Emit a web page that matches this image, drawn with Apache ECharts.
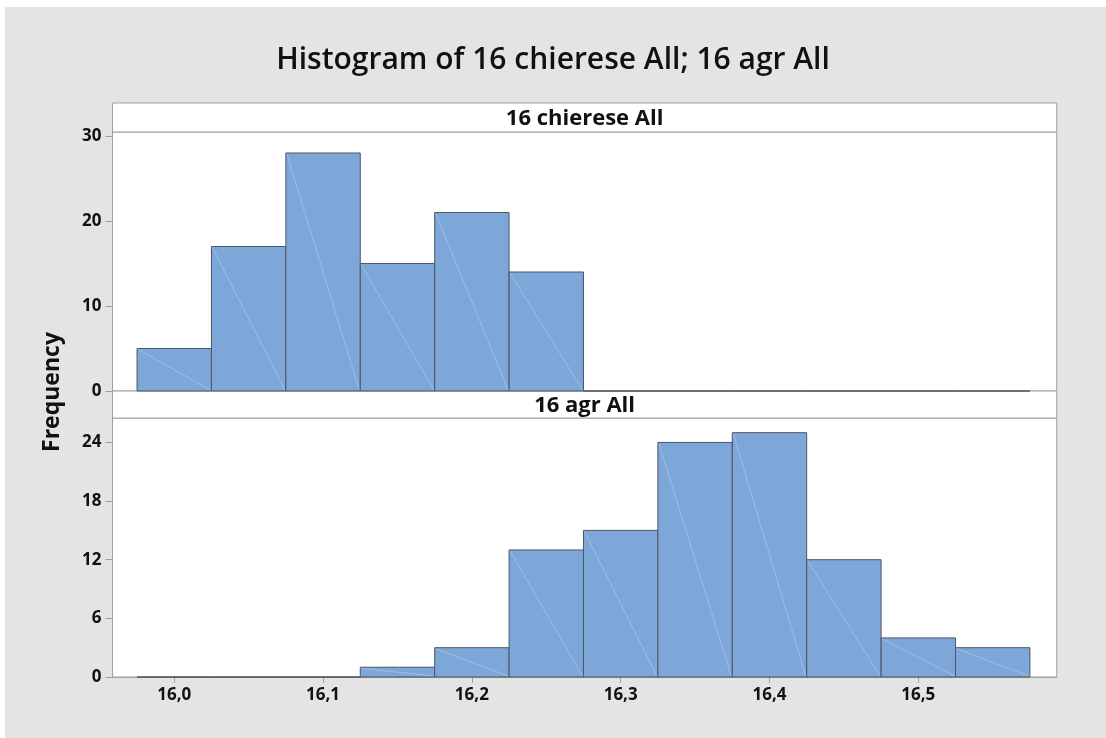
<!DOCTYPE html>
<html>
<head>
<meta charset="utf-8">
<script src="https://cdn.jsdelivr.net/npm/echarts@6/dist/echarts.min.js"></script>
<style>
html,body{margin:0;padding:0;background:#fff;}
#chart{width:1106px;height:738px;}
</style>
</head>
<body>
<div id="chart"></div>
<script>
// ---- data ----
const chartTitle = 'Histogram of 16 chierese All; 16 agr All';
const panelNames = ['16 chierese All', '16 agr All'];
const binCenters = [16.00, 16.05, 16.10, 16.15, 16.20, 16.25, 16.30, 16.35, 16.40, 16.45, 16.50, 16.55];
const binWidth = 0.05;
const chiereseCounts = [5, 17, 28, 15, 21, 14, 0, 0, 0, 0, 0, 0];
const agrCounts = [0, 0, 0, 1, 3, 13, 15, 24, 25, 12, 4, 3];
const xTickValues = [16.0, 16.1, 16.2, 16.3, 16.4, 16.5];
const xTickLabels = ['16,0', '16,1', '16,2', '16,3', '16,4', '16,5'];
const yTicksTop = [0, 10, 20, 30];
const yTicksBottom = [0, 6, 12, 18, 24];
const yAxisTitle = 'Frequency';

// ---- layout ----
const FONT = '"Open Sans", "Noto Sans", sans-serif';
const plotLeft = 112.5, plotRight = 1056.7;
const topStrip = [103, 132], topPlot = [132, 391];
const botStrip = [391, 418], botPlot = [418, 677];
const xMin = 15.9585, xMax = 16.593;

function binData(counts) {
  return binCenters.map((c, i) => [c - binWidth / 2, c + binWidth / 2, counts[i]]);
}

function renderBar(params, api) {
  const x0 = api.value(0), x1 = api.value(1), v = api.value(2);
  const pTop = api.coord([x0, v]);
  const pBot = api.coord([x1, 0]);
  const rect = { x: pTop[0], y: pTop[1], width: pBot[0] - pTop[0], height: pBot[1] - pTop[1] };
  const children = [{
    type: 'rect',
    shape: rect,
    style: { fill: '#7da7d9', stroke: '#4d5563', lineWidth: 1 }
  }];
  if (v > 0) {
    children.push({
      type: 'line',
      shape: { x1: pTop[0] + 1, y1: pTop[1] + 1, x2: pBot[0] - 1, y2: pBot[1] - 1 },
      style: { stroke: 'rgba(255,255,255,0.25)', lineWidth: 1 }
    });
  }
  return { type: 'group', children: children };
}

const labelStyle = { color: '#111', fontFamily: FONT, fontWeight: 700, fontSize: 17 };
const axisGray = '#a0a0a0';

function yAxis(gridIndex, maxV, ticks) {
  return {
    type: 'value', gridIndex: gridIndex, min: 0, max: maxV,
    axisLine: { show: true, lineStyle: { color: axisGray } },
    axisTick: { show: true, length: 7, lineStyle: { color: axisGray }, customValues: ticks },
    axisLabel: Object.assign({ margin: 11, customValues: ticks, formatter: v => String(v) }, labelStyle),
    splitLine: { show: false }
  };
}

const chart = echarts.init(document.getElementById('chart'), null, { renderer: 'canvas' });
chart.setOption({
  animation: false,
  backgroundColor: '#ffffff',
  title: {
    text: chartTitle, left: 'center', top: 40,
    textStyle: { fontFamily: FONT, fontWeight: 600, fontSize: 30, color: '#111' }
  },
  graphic: [
    { type: 'rect', z: -10, shape: { x: 5, y: 7, width: 1101, height: 731 }, style: { fill: '#e4e4e4' } },
    { type: 'rect', shape: { x: plotLeft, y: topStrip[0], width: plotRight - plotLeft, height: topStrip[1] - topStrip[0] },
      style: { fill: '#fff', stroke: axisGray, lineWidth: 1 } },
    { type: 'text', x: (plotLeft + plotRight) / 2, y: (topStrip[0] + topStrip[1]) / 2 + 1,
      style: { text: panelNames[0], align: 'center', verticalAlign: 'middle', font: '700 22px ' + FONT, fill: '#111' } },
    { type: 'rect', shape: { x: plotLeft, y: botStrip[0], width: plotRight - plotLeft, height: botStrip[1] - botStrip[0] },
      style: { fill: '#fff', stroke: axisGray, lineWidth: 1 } },
    { type: 'text', x: (plotLeft + plotRight) / 2, y: (botStrip[0] + botStrip[1]) / 2 + 1,
      style: { text: panelNames[1], align: 'center', verticalAlign: 'middle', font: '700 22px ' + FONT, fill: '#111' } },
    { type: 'text', x: 52, y: 392, rotation: Math.PI / 2,
      style: { text: yAxisTitle, align: 'center', verticalAlign: 'middle', font: '700 23px ' + FONT, fill: '#111' } }
  ],
  grid: [
    { left: plotLeft, width: plotRight - plotLeft, top: topPlot[0], height: topPlot[1] - topPlot[0],
      show: true, backgroundColor: '#fff', borderColor: axisGray, borderWidth: 1 },
    { left: plotLeft, width: plotRight - plotLeft, top: botPlot[0], height: botPlot[1] - botPlot[0],
      show: true, backgroundColor: '#fff', borderColor: axisGray, borderWidth: 1 }
  ],
  xAxis: [
    { type: 'value', gridIndex: 0, min: xMin, max: xMax,
      axisLine: { show: false }, axisTick: { show: false }, axisLabel: { show: false }, splitLine: { show: false } },
    { type: 'value', gridIndex: 1, min: xMin, max: xMax,
      axisLine: { show: true, onZero: false, lineStyle: { color: axisGray } },
      axisTick: { show: true, length: 6, lineStyle: { color: axisGray }, customValues: xTickValues },
      axisLabel: Object.assign({ margin: 10, customValues: xTickValues,
        formatter: v => { const i = xTickValues.findIndex(t => Math.abs(t - v) < 1e-9); return i >= 0 ? xTickLabels[i] : ''; } }, labelStyle, { fontSize: 17 }),
      splitLine: { show: false } }
  ],
  yAxis: [
    yAxis(0, 30.47, yTicksTop),
    yAxis(1, 26.5, yTicksBottom)
  ],
  series: [
    { type: 'custom', xAxisIndex: 0, yAxisIndex: 0, renderItem: renderBar,
      encode: { x: [0, 1], y: 2 }, data: binData(chiereseCounts), clip: false },
    { type: 'custom', xAxisIndex: 1, yAxisIndex: 1, renderItem: renderBar,
      encode: { x: [0, 1], y: 2 }, data: binData(agrCounts), clip: false }
  ]
});
</script>
</body>
</html>
